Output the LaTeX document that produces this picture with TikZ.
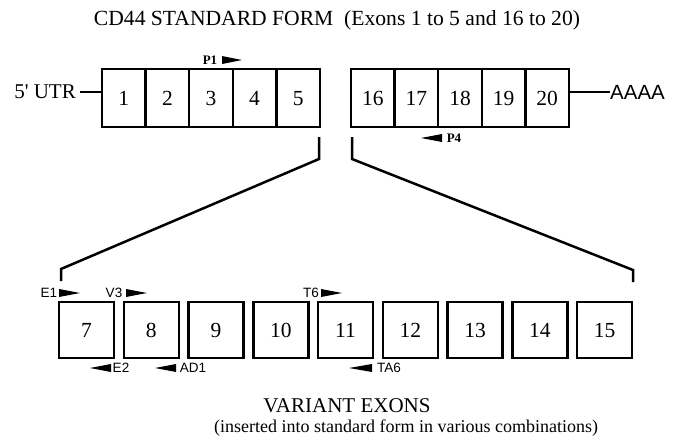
\documentclass[tikz,border=0pt]{standalone}
\usepackage{fontspec}
\setmainfont{Liberation Serif}
\setsansfont{Liberation Sans}
\begin{document}
\begin{tikzpicture}[x=1pt,y=-1pt,
  lw/.style={line width=2.5pt},
  digits/.style={font=\fontsize{21.5}{22}\selectfont,text height=14.5pt,text depth=0pt},
  cell/.style={draw,lw,minimum width=43.6pt,minimum height=58pt,inner sep=0pt,digits},
  vbox/.style={draw,lw,minimum width=55pt,minimum height=56pt,inner sep=0pt,digits},
  lbl/.style={inner sep=0pt,font=\fontsize{21}{22}\selectfont},
  plbl/.style={inner sep=0pt,font=\fontsize{13}{14}\selectfont\bfseries},
  slbl/.style={inner sep=0pt,font=\sffamily\fontsize{13.5}{14}\selectfont},
  tri/.style={fill=black},
  bracket/.style={lw,line join=miter}]
\useasboundingbox (0,0) rectangle (676,439);

% title
\node[inner sep=0pt,font=\fontsize{21.6}{22}\selectfont] (title) at (337,20)
  {CD44 STANDARD FORM\ \ (Exons 1 to 5 and 16 to 20)};

% constant exons 1-5
\foreach \n [count=\i from 0] in {1,...,5}
  \node[cell] (c\n) at ({123.8+43.6*\i},98) {\n};
% constant exons 16-20
\foreach \n [count=\i from 0] in {16,...,20}
  \node[cell] (c\n) at ({372.8+43.6*\i},98) {\n};

% UTR and poly-A tail
\node[lbl,anchor=east] (utr) at (76,92) {5\textquotesingle\ UTR};
\coordinate (utrend) at (80,92);
\draw[lw] (utrend) -- (utrend -| c1.west);
\node[anchor=west,inner sep=0pt,font=\sffamily\fontsize{20.5}{21}\selectfont] (polya) at (610,92) {AAAA};
\draw[lw] (c20.east |- polya) -- (polya.west);

% primers on the constant exons
\node[plbl] (p1) at (210,60) {P1};
\fill[tri] (222,56) -- (242,60) -- (222,64) -- cycle;
\node[plbl] (p4) at (454,138) {P4};
\fill[tri] (442,134) -- (421,138) -- (442,142) -- cycle;

% variant exons 7-15
\foreach \n [count=\i from 0] in {7,...,15}
  \node[vbox] (v\n) at ({86.5+64.75*\i},330) {\n};

% expansion brackets
\coordinate (la) at (319,137);
\coordinate (lb) at (319,159);
\coordinate (lc) at (61,269);
\coordinate (ld) at (61,281);
\draw[bracket] (la) -- (lb) -- (lc) -- (ld);
\coordinate (ra) at (352,137);
\coordinate (rb) at (352,159);
\coordinate (rc) at (633,270);
\coordinate (rd) at (633,282);
\draw[bracket] (ra) -- (rb) -- (rc) -- (rd);

% primers on the variant exons
\node[slbl] (e1) at (49,293) {E1};
\fill[tri] (59,289) -- (80,293) -- (59,297) -- cycle;
\node[slbl] (v3) at (114,293) {V3};
\fill[tri] (126,289) -- (147,293) -- (126,297) -- cycle;
\node[slbl] (t6) at (311,293) {T6};
\fill[tri] (321,289) -- (342,293) -- (321,297) -- cycle;
\node[slbl] (e2) at (121,368) {E2};
\fill[tri] (111,364) -- (90,368) -- (111,372) -- cycle;
\node[slbl] (ad1) at (193,368) {AD1};
\fill[tri] (176,364) -- (155,368) -- (176,372) -- cycle;
\node[slbl] (ta6) at (389,368) {TA6};
\fill[tri] (372,364) -- (349,368) -- (372,372) -- cycle;

% caption
\node[lbl] (cap1) at (347,406) {VARIANT EXONS};
\node[inner sep=0pt,font=\fontsize{18}{20}\selectfont] (cap2) at (406,428)
  {(inserted into standard form in various combinations)};
\end{tikzpicture}
\end{document}
